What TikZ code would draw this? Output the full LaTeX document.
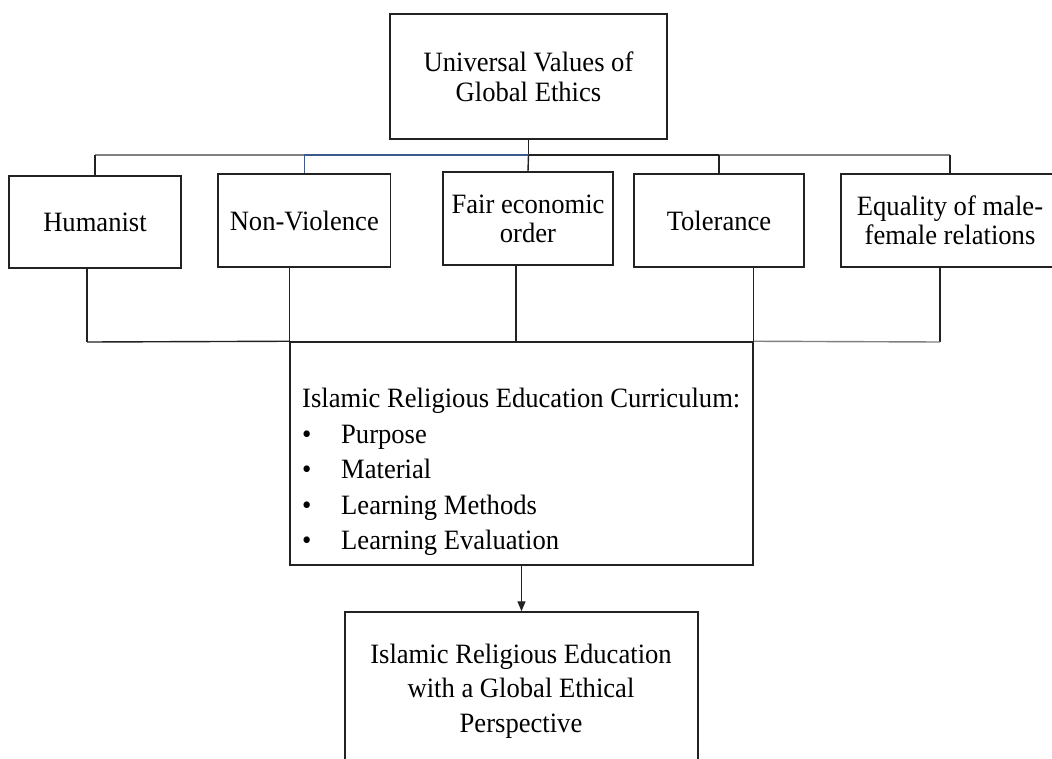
\documentclass[tikz,border=0pt]{standalone}
\usepackage{fontspec}
\setmainfont{Liberation Serif}[FakeStretch=0.95]
\usetikzlibrary{arrows.meta}
\definecolor{lineblk}{HTML}{222222}
\definecolor{linegry}{HTML}{808080}
\definecolor{lineblu}{HTML}{3C5A8C}
\begin{document}
\begin{tikzpicture}[x=1pt,y=-1pt,
  box/.style={draw=lineblk, line width=1.5pt, inner sep=0pt, align=center, text=black},
  txt/.style={inner sep=0pt, align=center, text=black},
  ln/.style={draw=lineblk, line width=1.4pt},
  gln/.style={draw=linegry, line width=1.4pt},
  bln/.style={draw=lineblu, line width=1.4pt},
  f30/.style={font=\fontsize{28}{30}\selectfont},
  f29/.style={font=\fontsize{28}{29}\selectfont},
  f35/.style={font=\fontsize{28}{35.5}\selectfont},
  f34/.style={font=\fontsize{28}{34.5}\selectfont}]
\useasboundingbox (0,0) rectangle (1052,758);
\fill[white] (0,0) rectangle (1052,758);

% top
\node[box, f30, minimum width=277pt, minimum height=125pt] (top) at (528.5,76.5) {Universal Values of\\Global Ethics};

% children
\node[box, f29, minimum width=172pt, minimum height=92pt] (hum) at (95,222) {Humanist};
\node[box, f29, minimum width=172.6pt, minimum height=93pt] (non) at (304.3,220.5) {Non-Violence};
\node[box, f29, minimum width=170pt, minimum height=93pt] (fair) at (528,218.5) {Fair economic\\order};
\node[box, f29, minimum width=170pt, minimum height=93pt] (tol) at (719,220.5) {Tolerance};
\node[box, f29, minimum width=218pt, minimum height=93pt] (eq) at (950,220.5) {Equality of male-\\female relations};

% curriculum
\node[box, minimum width=463pt, minimum height=223pt] (cur) at (521.5,453.5) {};
\node[txt, f35, align=left, anchor=north west] (curtxt) at (302,388)
  {Islamic Religious Education Curriculum:\\
   \makebox[39pt][l]{\textbullet}Purpose\\
   \makebox[39pt][l]{\textbullet}Material\\
   \makebox[39pt][l]{\textbullet}Learning Methods\\
   \makebox[39pt][l]{\textbullet}Learning Evaluation};

% result
\node[box, minimum width=353pt, minimum height=190pt] (res) at (521.5,707) {};
\node[txt, f34] (restxt) at (521,691) {Islamic Religious Education\\with a Global Ethical\\Perspective};

% upper bus
\coordinate (bus) at (528.5,155);
\draw[ln] (top.south) -- (bus);
\draw[gln] (hum.north |- bus) -- (non.north |- bus);
\draw[bln] (non.north |- bus) -- (bus);
\draw[ln] (bus) -- (tol.north |- bus);
\draw[gln] (tol.north |- bus) -- (eq.north |- bus);
\draw[ln] (hum.north |- bus) -- (hum.north);
\draw[bln] (non.north |- bus) -- (non.north);
\draw[ln] (bus) -- (fair.north);
\draw[ln] (tol.north |- bus) -- (tol.north);
\draw[ln] (eq.north |- bus) -- (eq.north);

% lower bus
\coordinate (hl) at (87,342);
\coordinate (el) at (940,342);
\draw[ln] (hl |- hum.south) -- (hl);
\draw[ln] (hl) -- (cur.north west);
\draw[ln] (cur.north west |- non.south) -- (cur.north west);
\draw[ln] (516,0 |- fair.south) -- (516,0 |- cur.north);
\draw[ln] (cur.north east |- tol.south) -- (cur.north east);
\draw[ln] (el |- eq.south) -- (el);
\draw[gln] (el) -- (cur.north east);

% arrow
\draw[ln, -{Triangle[length=10pt,width=8pt]}] (cur.south) -- (res.north);
\end{tikzpicture}
\end{document}
